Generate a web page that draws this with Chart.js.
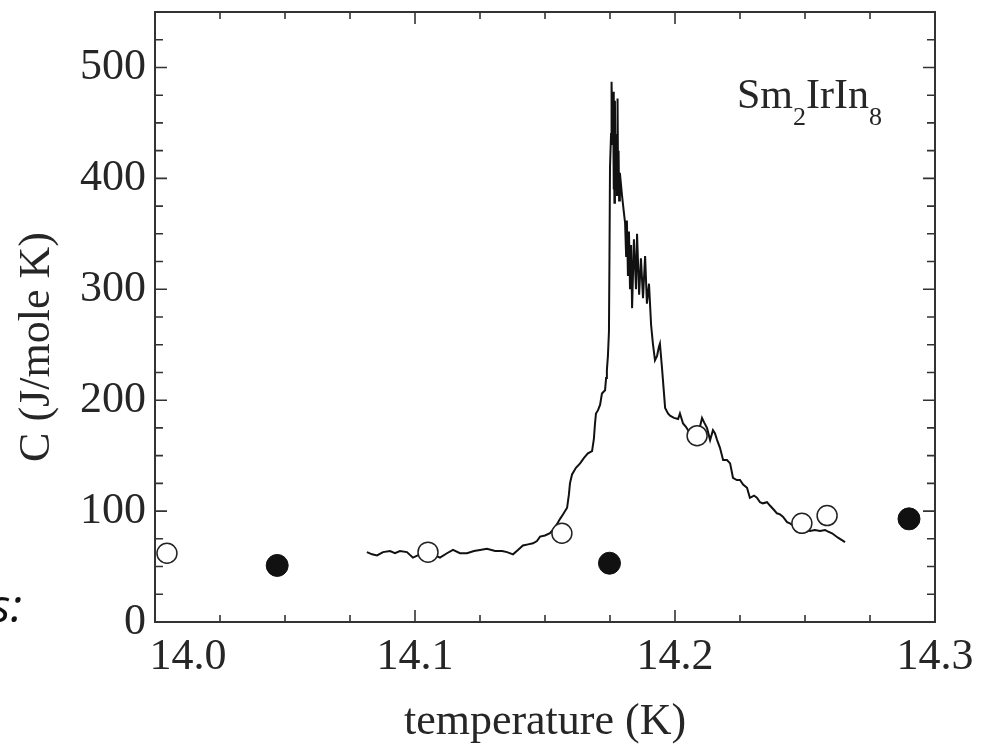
<!DOCTYPE html>
<html>
<head>
<meta charset="utf-8">
<script src="https://cdn.jsdelivr.net/npm/chart.js@4.4.0/dist/chart.umd.min.js"></script>
<style>
  html, body { margin: 0; padding: 0; background: #fff; }
</style>
</head>
<body>
<canvas id="heatCapacity" width="982" height="749"></canvas>
<script>
// measured curve, C vs T
const curveTemps = [
  14.0815, 14.0835, 14.0854, 14.0877, 14.0904, 14.0923, 14.0942, 14.0969, 14.0992, 14.1019,
  14.1050, 14.1077, 14.1096, 14.1123, 14.1146, 14.1173, 14.1200, 14.1227, 14.1250, 14.1277,
  14.1308, 14.1335, 14.1354, 14.1377, 14.1396, 14.1415, 14.1435, 14.1454, 14.1469, 14.1481,
  14.1500, 14.1519, 14.1538, 14.1558, 14.1569, 14.1585, 14.1592, 14.1596, 14.1604, 14.1619,
  14.1635, 14.1650, 14.1665, 14.1681, 14.1688, 14.1692, 14.1696, 14.1704, 14.1712, 14.1719,
  14.1731, 14.1735, 14.1738, 14.1742, 14.1746, 14.1748, 14.1750, 14.1754, 14.1756, 14.1760,
  14.1762, 14.1764, 14.1765, 14.1767, 14.1769, 14.1771, 14.1775, 14.1777, 14.1779, 14.1781,
  14.1783, 14.1785, 14.1788, 14.1796, 14.1804, 14.1808, 14.1812, 14.1815, 14.1819, 14.1823,
  14.1827, 14.1831, 14.1835, 14.1842, 14.1850, 14.1854, 14.1862, 14.1869, 14.1877, 14.1885,
  14.1892, 14.1900, 14.1908, 14.1915, 14.1923, 14.1931, 14.1938, 14.1942, 14.1950, 14.1958,
  14.1962, 14.1973, 14.1981, 14.1996, 14.2012, 14.2019, 14.2031, 14.2042, 14.2058, 14.2069,
  14.2085, 14.2096, 14.2104, 14.2112, 14.2123, 14.2135, 14.2146, 14.2154, 14.2162, 14.2173,
  14.2185, 14.2200, 14.2212, 14.2223, 14.2238, 14.2250, 14.2262, 14.2277, 14.2288, 14.2304,
  14.2315, 14.2327, 14.2338, 14.2354, 14.2365, 14.2381, 14.2392, 14.2404, 14.2415, 14.2431,
  14.2442, 14.2462, 14.2481, 14.2500, 14.2519, 14.2538, 14.2558, 14.2577, 14.2585, 14.2604,
  14.2627, 14.2654
];
const curveValues = [
  63, 61, 60, 63, 64, 62, 64, 63, 58, 61,
  62, 60, 58, 62, 65, 62, 62, 64, 65, 66,
  64, 64, 63, 61, 65, 69, 70, 71, 73, 77,
  78, 80, 85, 93, 97, 103, 115, 125, 133, 139,
  143, 148, 152, 154, 165, 178, 188, 191, 196, 206,
  209, 220, 227, 240, 262, 330, 410, 440, 487, 430,
  478, 390, 465, 378, 470, 400, 440, 385, 472, 400,
  425, 380, 405, 385, 368, 360, 330, 362, 312, 352,
  300, 340, 283, 345, 300, 350, 295, 328, 292, 330,
  287, 305, 268, 251, 236, 240, 248, 251, 229, 205,
  193, 188, 186, 184, 183, 188, 179, 176, 170, 166,
  168, 176, 184, 180, 175, 164, 173, 170, 164, 157,
  146, 146, 143, 130, 128, 128, 124, 121, 112, 114,
  112, 108, 107, 108, 105, 101, 98, 97, 95, 90,
  89, 86, 84, 83, 82, 83, 82, 83, 82, 80,
  76, 72
];

const openTemps = [14.0046, 14.105, 14.1565, 14.2085, 14.2488, 14.2585];
const openValues = [62, 63, 80, 168, 89, 96];

const closedTemps = [14.047, 14.1748, 14.29];
const closedValues = [51, 53, 93];

const xTickLabels = ['14.0', '14.1', '14.2', '14.3'];
const yTickLabels = ['0', '100', '200', '300', '400', '500'];

function toPoints(xs, ys){
  let pts = [];
  for (let i = 0; i < xs.length; i++) {
    pts.push({x: xs[i], y: ys[i]});
  }
  return pts;
}

const serif = '"Liberation Serif", "Times New Roman", serif';
const textColor = '#262626';

// frame with inward ticks on all four sides
const frameTicks = {
  id: 'frameTicks',
  afterDatasetsDraw(chart) {
    const {ctx, chartArea: a, scales} = chart;
    const xs = scales.x, ys = scales.y;
    ctx.save();
    ctx.strokeStyle = '#333';
    ctx.lineWidth = 2;
    ctx.strokeRect(a.left, a.top, a.right - a.left, a.bottom - a.top);
    ctx.lineWidth = 1.6;
    ctx.beginPath();
    xs.ticks.forEach(function(t){
      const px = xs.getPixelForValue(t.value);
      const len = t.label ? 12 : 7;
      ctx.moveTo(px, a.bottom); ctx.lineTo(px, a.bottom - len);
      ctx.moveTo(px, a.top); ctx.lineTo(px, a.top + len);
    });
    ys.ticks.forEach(function(t){
      const py = ys.getPixelForValue(t.value);
      const len = t.label ? 12 : 8;
      ctx.moveTo(a.left, py); ctx.lineTo(a.left + len, py);
      ctx.moveTo(a.right, py); ctx.lineTo(a.right - len, py);
    });
    ctx.stroke();
    ctx.restore();
  },
  afterDraw(chart) {
    const {ctx} = chart;
    ctx.save();
    ctx.fillStyle = textColor;

    // y axis title
    ctx.font = '44px ' + serif;
    ctx.textAlign = 'center';
    ctx.textBaseline = 'middle';
    ctx.translate(37, 347);
    ctx.rotate(-Math.PI / 2);
    ctx.fillText('C (J/mole K)', 0, 0);
    ctx.setTransform(1, 0, 0, 1, 0, 0);

    // compound name with subscripts
    ctx.textAlign = 'left';
    ctx.textBaseline = 'alphabetic';
    let x = 737;
    const base = 108, sub = 125;
    const parts = [['Sm', false], ['2', true], ['IrIn', false], ['8', true]];
    parts.forEach(function(p){
      ctx.font = (p[1] ? '26px ' : '42px ') + serif;
      ctx.fillText(p[0], x, p[1] ? sub : base);
      x += ctx.measureText(p[0]).width;
    });

    // cut-off text at the left edge
    ctx.fillStyle = '#111';
    ctx.font = 'italic 46px "Open Sans", "DejaVu Sans", sans-serif';
    ctx.textAlign = 'right';
    ctx.fillText('s:', 22, 622);
    ctx.restore();
  }
};

function noEdgePadding(scale){
  scale.paddingTop = 0;
  scale.paddingBottom = 0;
  scale.paddingLeft = 0;
  scale.paddingRight = 0;
}

const ctx = document.getElementById('heatCapacity');
const heatChart = new Chart(ctx, {
  type: 'scatter',
  data: {
    datasets: [
      {
        label: 'curve',
        data: toPoints(curveTemps, curveValues),
        showLine: true,
        borderColor: '#111',
        borderWidth: 2,
        pointRadius: 0,
        tension: 0,
        order: 3
      },
      {
        label: 'open',
        data: toPoints(openTemps, openValues),
        pointRadius: 10,
        pointBackgroundColor: '#fff',
        pointBorderColor: '#222',
        pointBorderWidth: 1.5,
        clip: false,
        order: 2
      },
      {
        label: 'closed',
        data: toPoints(closedTemps, closedValues),
        pointRadius: 11,
        pointBackgroundColor: '#111',
        pointBorderColor: '#111',
        pointBorderWidth: 1,
        clip: false,
        order: 1
      }
    ]
  },
  options: {
    responsive: false,
    animation: false,
    layout: { padding: { top: 10, right: 47, left: 0, bottom: 0 } },
    plugins: {
      legend: { display: false },
      tooltip: { enabled: false }
    },
    scales: {
      x: {
        type: 'linear',
        min: 14.0,
        max: 14.3,
        grid: { display: false, drawTicks: false },
        border: { display: false },
        afterFit: function(scale){
          scale.height = 127;
          noEdgePadding(scale);
        },
        ticks: {
          stepSize: 0.025,
          autoSkip: false,
          maxRotation: 0,
          minRotation: 0,
          padding: 9,
          color: textColor,
          font: { family: serif, size: 44 },
          callback: function(value){
            const k = Math.round((value - 14) * 10);
            if (Math.abs((value - 14) * 10 - k) > 1e-6) return '';
            // first label sits right of the corner in the original
            return k === 0 ? '      ' + xTickLabels[k] : xTickLabels[k];
          }
        },
        title: {
          display: true,
          text: 'temperature (K)',
          color: textColor,
          font: { family: serif, size: 44, lineHeight: 1 },
          padding: { top: 0, bottom: 5 }
        }
      },
      y: {
        min: 0,
        max: 550,
        grid: { display: false, drawTicks: false },
        border: { display: false },
        afterFit: function(scale){
          scale.width = 155;
          noEdgePadding(scale);
        },
        ticks: {
          stepSize: 25,
          autoSkip: false,
          padding: 9,
          color: textColor,
          font: { family: serif, size: 44 },
          callback: function(value){
            if (value % 100 !== 0) return '';
            return yTickLabels[value / 100];
          }
        }
      }
    }
  },
  plugins: [frameTicks]
});
</script>
</body>
</html>
